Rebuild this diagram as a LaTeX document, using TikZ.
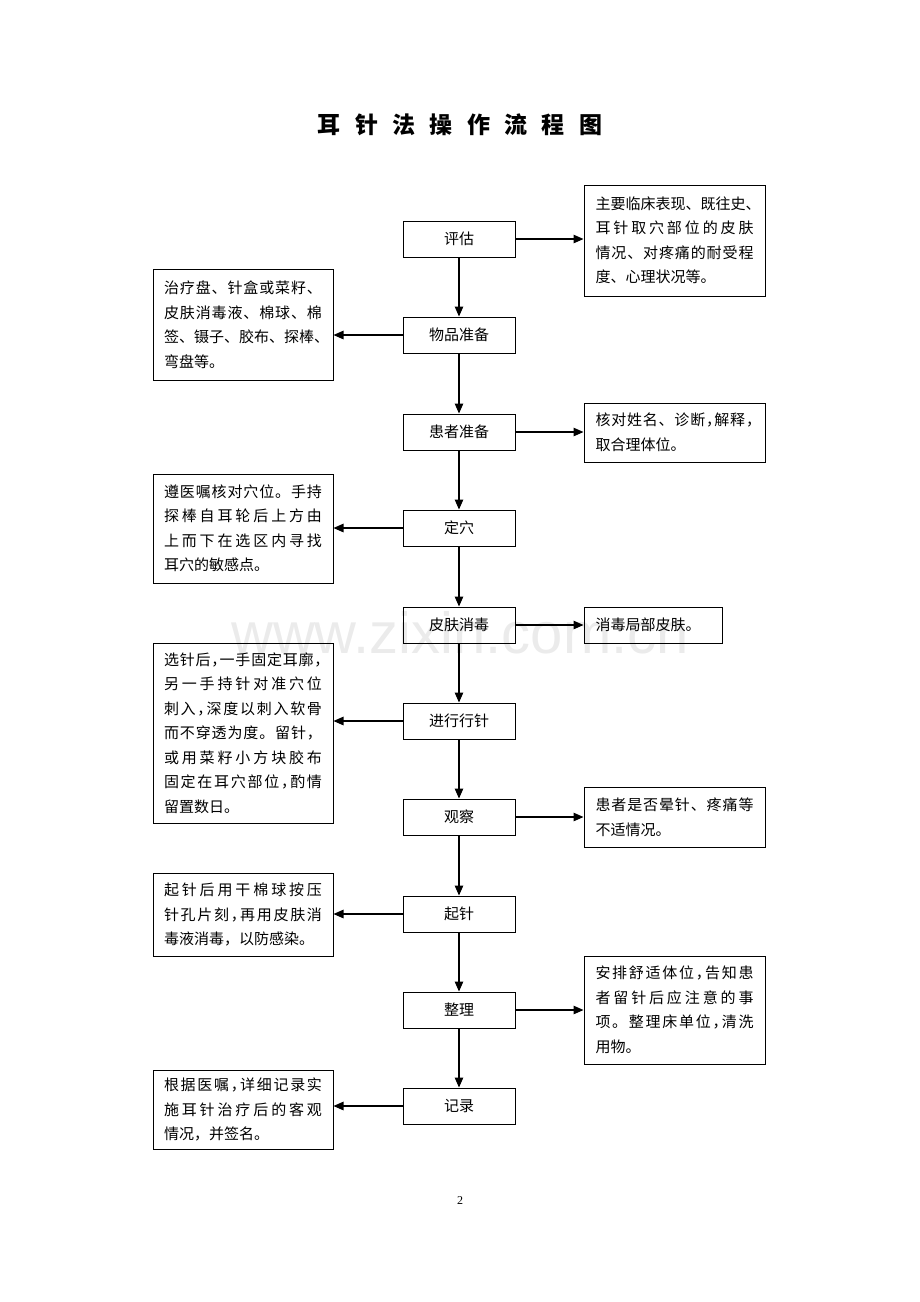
\documentclass[tikz,border=0pt]{standalone}
\usepackage{fontspec}
\setmainfont{Liberation Serif}
\newfontfamily\cjk{Noto Sans CJK SC}
\newfontfamily\wmfont{Liberation Sans}
\usetikzlibrary{arrows.meta}
\newcommand{\tsp}{\hspace{14.4pt}}
\def\endspr{}
\def\spr#1#2\endspr{#1\ifx\endspr#2\endspr\else\hfill\spr#2\endspr\fi}
\newcommand{\jl}[1]{\makebox[158pt][s]{\spr#1\endspr}}
\def\hc{\makebox[0.5em][l]{，}}
\begin{document}
\begin{tikzpicture}[x=1pt,y=-1pt,
  boxfont/.style={font=\cjk\fontsize{15}{24.5}\selectfont},
  mainbox/.style={draw,line width=1pt,minimum width=112pt,minimum height=36pt,inner sep=0pt,boxfont},
  sidebox/.style={draw,line width=1pt,inner ysep=0pt,align=left,boxfont,text width=158pt},
  rbox/.style={sidebox,inner xsep=11.5pt},
  lbox/.style={sidebox,inner xsep=11pt},
  arr/.style={line width=1.2pt,-{Triangle[length=10pt,width=8.5pt]}}]
\useasboundingbox (0,0) rectangle (920,1302);
\node[text=gray!16,font=\wmfont\fontsize{58}{58}\selectfont] (wm) at (460,633) {www.zixin.com.cn};
\node[font=\cjk\bfseries\fontsize{23}{23}\selectfont] (title) at (460,125) {耳\tsp 针\tsp 法\tsp 操\tsp 作\tsp 流\tsp 程\tsp 图};
% main column
\node[mainbox] (m1) at (459,239) {评估};
\node[mainbox] (m2) at (459,335) {物品准备};
\node[mainbox] (m3) at (459,432) {患者准备};
\node[mainbox] (m4) at (459,528) {定穴};
\node[mainbox] (m5) at (459,625) {皮肤消毒};
\node[mainbox] (m6) at (459,721) {进行行针};
\node[mainbox] (m7) at (459,817) {观察};
\node[mainbox] (m8) at (459,914) {起针};
\node[mainbox] (m9) at (459,1010) {整理};
\node[mainbox] (m10) at (459,1106) {记录};
% right boxes
\node[rbox,minimum height=111pt] (r1) at (674.5,240.5) {\jl{主要临床表现、既往史、}\\\jl{耳针取穴部位的皮肤}\\\jl{情况、对疼痛的耐受程}\\度、心理状况等。};
\node[rbox,minimum height=59pt] (r3) at (674.5,432.5) {\jl{核对姓名、诊断\hc 解释\hc}\\取合理体位。};
\node[sidebox,inner xsep=11.5pt,text width=115pt,minimum height=36pt] (r5) at (653,625) {消毒局部皮肤。};
\node[rbox,minimum height=60pt] (r7) at (674.5,817) {\jl{患者是否晕针、疼痛等}\\不适情况。};
\node[rbox,minimum height=108pt] (r9) at (674.5,1010) {\jl{安排舒适体位\hc 告知患}\\\jl{者留针后应注意的事}\\\jl{项。整理床单位\hc 清洗}\\用物。};
% left boxes
\node[lbox,minimum height=111pt] (l2) at (243,324.5) {\jl{治疗盘、针盒或菜籽、}\\\jl{皮肤消毒液、棉球、棉}\\\jl{签、镊子、胶布、探棒、}\\弯盘等。};
\node[lbox,minimum height=109pt] (l4) at (243,528.5) {\jl{遵医嘱核对穴位。手持}\\\jl{探棒自耳轮后上方由}\\\jl{上而下在选区内寻找}\\耳穴的敏感点。};
\node[lbox,minimum height=180pt] (l6) at (243,733) {\jl{选针后\hc 一手固定耳廓\hc}\\\jl{另一手持针对准穴位}\\\jl{刺入\hc 深度以刺入软骨}\\\jl{而不穿透为度。留针，}\\\jl{或用菜籽小方块胶布}\\\jl{固定在耳穴部位\hc 酌情}\\留置数日。};
\node[lbox,minimum height=83pt] (l8) at (243,914.5) {\jl{起针后用干棉球按压}\\\jl{针孔片刻\hc 再用皮肤消}\\毒液消毒，以防感染。};
\node[lbox,minimum height=79pt] (l10) at (243,1109.5) {\jl{根据医嘱\hc 详细记录实}\\\jl{施耳针治疗后的客观}\\情况，并签名。};
% vertical arrows
\foreach \a/\b in {m1/m2,m2/m3,m3/m4,m4/m5,m5/m6,m6/m7,m7/m8,m8/m9,m9/m10}
  \draw[arr] (\a.south) -- (\b.north);
% right arrows
\foreach \a/\b in {m1/r1,m3/r3,m5/r5,m7/r7,m9/r9}
  \draw[arr] (\a.east) -- (\a.east -| \b.west);
% left arrows
\foreach \a/\b in {m2/l2,m4/l4,m6/l6,m8/l8,m10/l10}
  \draw[arr] (\a.west) -- (\a.west -| \b.east);
\node[font=\fontsize{12}{12}\selectfont] (pg) at (460,1201) {2};
\end{tikzpicture}
\end{document}
